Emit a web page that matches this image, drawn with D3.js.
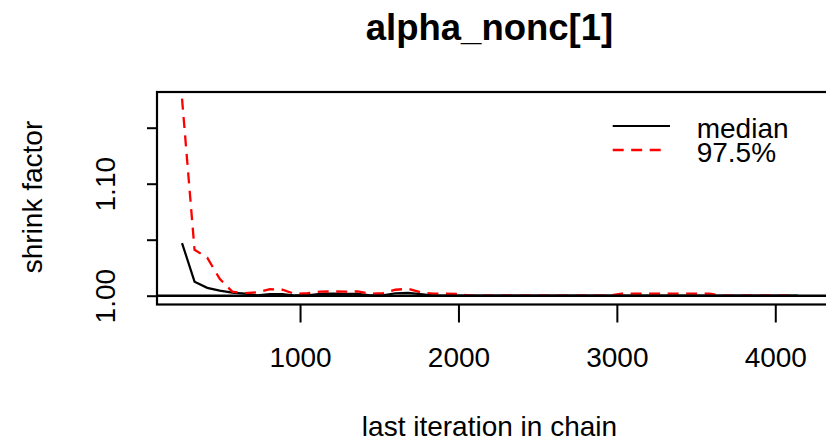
<!DOCTYPE html>
<html>
<head>
<meta charset="utf-8">
<script src="https://cdn.jsdelivr.net/npm/d3@7"></script>
<style>
  body { margin: 0; background: #fff; }
  svg { display: block; font-family: "Liberation Sans", Arial, sans-serif; }
</style>
</head>
<body>
<svg id="chart" width="826" height="446"></svg>
<script>
// last iteration in chain (bin ends)
var iterations = [255, 334, 414, 493, 572, 651, 731, 810, 889, 968,
  1048, 1127, 1206, 1285, 1365, 1444, 1523, 1602, 1682, 1761,
  1840, 1919, 1999, 2078, 2157, 2236, 2316, 2395, 2474, 2553,
  2633, 2712, 2791, 2870, 2950, 3029, 3108, 3187, 3267, 3346,
  3425, 3504, 3584, 3663, 3742, 3821, 3901, 3980, 4059, 4142];

var medianVals = [1.047, 1.0125, 1.007, 1.0045, 1.0027, 1.0018, 1.0003, 1.0015, 1.0015, 1.0002,
  1.0004, 1.0016, 1.0018, 1.0017, 1.0016, 1.0004, 1.0003, 1.0022, 1.0025, 1.0014,
  1.0, 1.0, 1.0, 1.0, 1.0, 1.0, 1.0, 1.0, 1.0, 1.0,
  1.0, 1.0, 1.0, 1.0, 1.0, 1.0, 1.0, 1.0, 1.0, 1.0,
  1.0, 1.0, 1.0, 1.0, 1.0, 1.0, 1.0, 1.0, 1.0, 1.0];

var upperVals = [1.176, 1.041, 1.034, 1.015, 1.0036, 1.0022, 1.003, 1.0058, 1.0053, 1.0015,
  1.0022, 1.0036, 1.0038, 1.0036, 1.0038, 1.0018, 1.0022, 1.0053, 1.0062, 1.003,
  1.0018, 1.0018, 1.0015, 1.0, 1.0, 1.0, 1.0, 1.0, 1.0, 1.0,
  1.0, 1.0, 1.0, 1.0, 1.0, 1.0018, 1.0018, 1.0018, 1.0018, 1.0018,
  1.0018, 1.0018, 1.0018, 1.0, 1.0, 1.0, 1.0, 1.0, 1.0, 1.0];

var xTicks = [1000, 2000, 3000, 4000];
var yTicks = [1.00, 1.05, 1.10, 1.15];
var yTickLabels = ["1.00", "", "1.10", ""];
var legendLabels = ["median", "97.5%"];
var chartTitle = "alpha_nonc[1]";

var svg = d3.select("#chart");
var plotLeft = 157, plotTop = 92, plotBottom = 304.5, plotRight = 822;

var x = d3.scaleLinear().domain([97, 4295]).range([plotLeft, plotRight]);
var y = d3.scaleLinear().domain([0.99214, 1.18188]).range([plotBottom, plotTop]);

var fs = 28;

// series
var line = d3.line()
  .x(function (d) { return x(d[0]); })
  .y(function (d) { return y(d[1]); });

svg.append("path")
  .datum(d3.zip(iterations, medianVals))
  .attr("d", line)
  .attr("fill", "none")
  .attr("stroke", "#000")
  .attr("stroke-width", 2.2);

svg.append("path")
  .datum(d3.zip(iterations, upperVals))
  .attr("d", line)
  .attr("fill", "none")
  .attr("stroke", "#ff0000")
  .attr("stroke-width", 2.3)
  .attr("stroke-dasharray", "11,7.5");

// abline h = 1 (drawn on top, hides values sitting at 1)
svg.append("line")
  .attr("x1", plotLeft).attr("x2", 840)
  .attr("y1", y(1)).attr("y2", y(1))
  .attr("stroke", "#000")
  .attr("stroke-width", 2.6);

// box (right side runs off the picture)
svg.append("rect")
  .attr("x", plotLeft).attr("y", plotTop)
  .attr("width", 860 - plotLeft).attr("height", plotBottom - plotTop)
  .attr("fill", "none")
  .attr("stroke", "#000")
  .attr("stroke-width", 2.2);

// x axis
var gx = svg.append("g")
  .attr("transform", "translate(0," + plotBottom + ")")
  .call(d3.axisBottom(x).tickValues(xTicks).tickSize(18).tickPadding(25).tickFormat(d3.format("d")));
gx.select(".domain").remove();
gx.selectAll("line").attr("stroke", "#000").attr("stroke-width", 2);
gx.selectAll("text")
  .attr("fill", "#000")
  .attr("font-size", fs)
  .attr("font-family", "Liberation Sans, Arial, sans-serif")
  .attr("dy", "0.71em");

// y axis, labels rotated like R
var gy = svg.append("g")
  .attr("transform", "translate(" + plotLeft + ",0)")
  .call(d3.axisLeft(y).tickValues(yTicks).tickSize(10)
    .tickFormat(function (d, i) { return yTickLabels[i]; }));
gy.select(".domain").remove();
gy.selectAll("line").attr("stroke", "#000").attr("stroke-width", 2);
gy.selectAll("text")
  .attr("fill", "#000")
  .attr("font-size", fs)
  .attr("font-family", "Liberation Sans, Arial, sans-serif")
  .attr("text-anchor", "middle")
  .attr("x", 0)
  .attr("y", -42)
  .attr("dy", 0)
  .attr("transform", "rotate(-90)");

// title + axis titles
svg.append("text")
  .attr("x", 489.5).attr("y", 40)
  .attr("text-anchor", "middle")
  .attr("font-size", 36.5)
  .attr("font-weight", "bold")
  .text(chartTitle);

svg.append("text")
  .attr("x", 489.5).attr("y", 436)
  .attr("text-anchor", "middle")
  .attr("font-size", fs)
  .text("last iteration in chain");

svg.append("text")
  .attr("transform", "translate(42,197) rotate(-90)")
  .attr("text-anchor", "middle")
  .attr("font-size", fs)
  .text("shrink factor");

// legend
var legY = [126, 150];
svg.append("line")
  .attr("x1", 612.7).attr("x2", 670)
  .attr("y1", legY[0]).attr("y2", legY[0])
  .attr("stroke", "#000").attr("stroke-width", 2);
svg.append("line")
  .attr("x1", 612.7).attr("x2", 662)
  .attr("y1", legY[1]).attr("y2", legY[1])
  .attr("stroke", "#ff0000").attr("stroke-width", 2.3)
  .attr("stroke-dasharray", "11,7.5");

legendLabels.forEach(function (lab, i) {
  svg.append("text")
    .attr("x", 696.7).attr("y", legY[i] + 11.7)
    .attr("font-size", fs)
    .text(lab);
});
</script>
</body>
</html>
